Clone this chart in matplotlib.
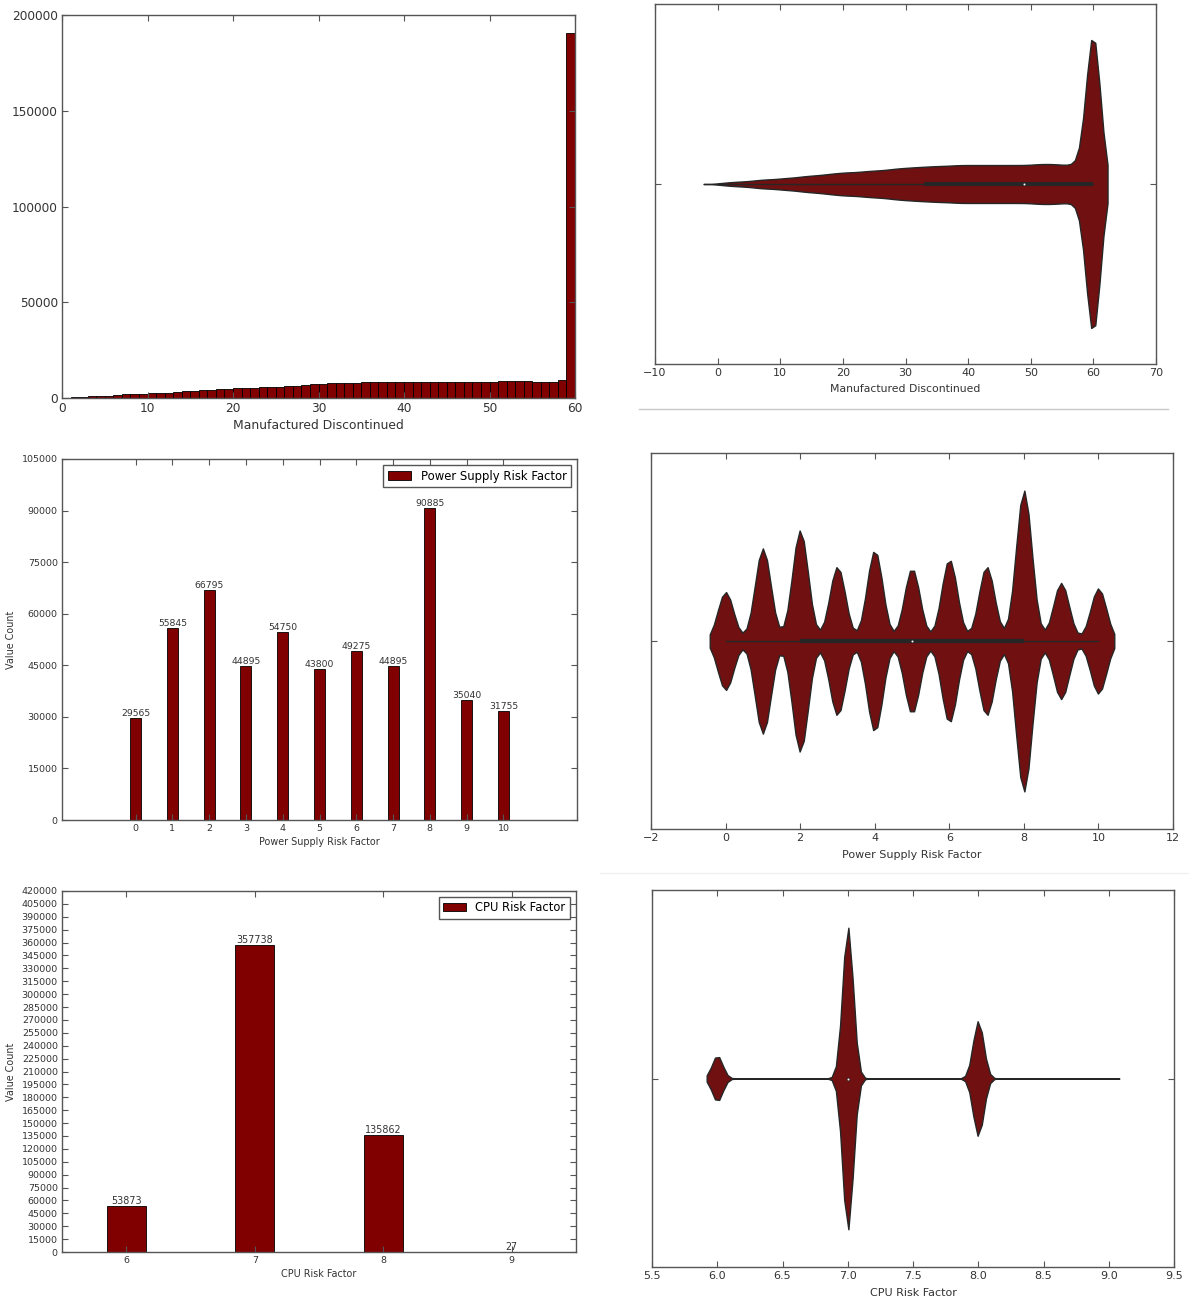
import numpy as np
import matplotlib
matplotlib.use('Agg')
import matplotlib.pyplot as plt
from matplotlib.lines import Line2D
from matplotlib.ticker import FormatStrFormatter

# ---------------- data ----------------
md_values = list(range(61))
md_counts = [100, 750, 750, 1100, 1100, 1300, 1600, 2100, 2100, 2100,
             2500, 2800, 2800, 3200, 3700, 3700, 4100, 4100, 4800, 4800,
             5300, 5300, 5300, 5600, 6000, 6000, 6300, 6300, 6900, 7200,
             7200, 7600, 7600, 7900, 7900, 8200, 8200, 8200, 8600, 8600,
             8600, 8600, 8600, 8600, 8600, 8600, 8600, 8600, 8600, 8600,
             8600, 9100, 9100, 9100, 9100, 8600, 8600, 8600, 9300, 8900,
             181900]

ps_levels = [0, 1, 2, 3, 4, 5, 6, 7, 8, 9, 10]
ps_counts = [29565, 55845, 66795, 44895, 54750, 43800, 49275, 44895, 90885, 35040, 31755]

cpu_levels = [6, 7, 8, 9]
cpu_counts = [53873, 357738, 135862, 27]

BAR = '#800000'
VIOLIN = '#701010'
GRAY = '#262626'
SPINE = '#555555'
TXT = '#333333'

W, H = 1189, 1302
fig = plt.figure(figsize=(W / 100, H / 100), dpi=100)
fig.patch.set_facecolor('white')


def rect(x0, y0, x1, y1):
    return [x0 / W, 1 - y1 / H, (x1 - x0) / W, (y1 - y0) / H]


def style(ax, size):
    for s in ax.spines.values():
        s.set_color(SPINE)
        s.set_linewidth(1.0)
    ax.tick_params(which='both', direction='in', top=True, right=True, length=4,
                   width=0.8, color=SPINE, labelsize=size, labelcolor=TXT, pad=3)


def draw_violin(ax, values, counts, gridsize=100, cut=2, width=0.8):
    v = np.asarray(values, float)
    w = np.asarray(counts, float)
    keep = w > 0
    v, w = v[keep], w[keep]
    n = w.sum()
    mean = (v * w).sum() / n
    std = np.sqrt((w * (v - mean) ** 2).sum() / (n - 1))
    bw = std * n ** (-1 / 5)
    support = np.linspace(v.min() - cut * bw, v.max() + cut * bw, gridsize)
    dens = (w[None, :] * np.exp(-0.5 * ((support[:, None] - v[None, :]) / bw) ** 2)).sum(1)
    dens = dens / dens.max() * width / 2
    ax.fill_between(support, -dens, dens, facecolor=VIOLIN, edgecolor=GRAY,
                    linewidth=1.0, zorder=1)
    order = np.argsort(v)
    vs, cum = v[order], np.cumsum(w[order])

    def q(p):
        return vs[np.searchsorted(cum, p * n)]
    q25, q50, q75 = q(0.25), q(0.5), q(0.75)
    iqr = q75 - q25
    lo = vs[vs >= q25 - 1.5 * iqr].min()
    hi = vs[vs <= q75 + 1.5 * iqr].max()
    ax.plot([lo, hi], [0, 0], color=GRAY, lw=1.0, zorder=2)
    ax.plot([q25, q75], [0, 0], color=GRAY, lw=3.0, solid_capstyle='butt', zorder=2)
    ax.scatter([q50], [0], s=4, color='white', edgecolor=GRAY, linewidth=0.5, zorder=3)
    ax.set_ylim(-0.5, 0.5)
    ax.set_yticks([0])
    ax.set_yticklabels([''])


# ---------- panel 1: histogram ----------
ax1 = fig.add_axes(rect(62, 15, 575, 398))
ax1.hist(md_values, bins=60, range=(0, 60), weights=md_counts, color=BAR,
         edgecolor='black', linewidth=0.6)
ax1.set_xlim(0, 60)
ax1.set_ylim(0, 200000)
ax1.set_xticks(np.arange(0, 61, 10))
ax1.set_yticks(np.arange(0, 200001, 50000))
style(ax1, 8.7)
ax1.set_xlabel('Manufactured Discontinued', fontsize=8.9, color=TXT, labelpad=3)

# ---------- panel 2: violin ----------
ax2 = fig.add_axes(rect(655, 4, 1156, 364))
draw_violin(ax2, md_values, md_counts)
ax2.set_xlim(-10, 70)
ax2.set_xticks(np.arange(-10, 71, 10))
style(ax2, 8)
ax2.set_xlabel('Manufactured Discontinued', fontsize=7.8, color=TXT, labelpad=4.5)

# ---------- panel 3: bar ----------
ax3 = fig.add_axes(rect(62, 459, 577, 820))
ax3.bar(ps_levels, ps_counts, width=0.3, color=BAR, edgecolor='black',
        linewidth=0.6, label='Power Supply Risk Factor')
for x, c in zip(ps_levels, ps_counts):
    ax3.text(x, c, '%d' % c, ha='center', va='bottom', fontsize=6.7, color=TXT)
ax3.set_xlim(-2, 12)
ax3.set_ylim(0, 105000)
ax3.set_xticks(ps_levels)
ax3.set_yticks(np.arange(0, 105001, 15000))
style(ax3, 6.8)
ax3.set_xlabel('Power Supply Risk Factor', fontsize=6.9, color=TXT, labelpad=3)
ax3.set_ylabel('Value Count', fontsize=6.9, color=TXT, labelpad=4)
lg = ax3.legend(loc='upper right', fontsize=8.4, fancybox=False, framealpha=1,
                borderaxespad=0.5)
lg.get_frame().set_edgecolor(SPINE)
lg.get_frame().set_linewidth(1.0)

# ---------- panel 4: violin ----------
ax4 = fig.add_axes(rect(651, 453, 1173, 829))
draw_violin(ax4, ps_levels, ps_counts)
ax4.set_xlim(-2, 12)
ax4.set_xticks(np.arange(-2, 13, 2))
style(ax4, 8)
ax4.set_xlabel('Power Supply Risk Factor', fontsize=8, color=TXT, labelpad=5)

# ---------- panel 5: bar ----------
ax5 = fig.add_axes(rect(62, 891, 576, 1252))
ax5.bar(cpu_levels, cpu_counts, width=0.3, color=BAR, edgecolor='black',
        linewidth=0.6, label='CPU Risk Factor')
for x, c in zip(cpu_levels, cpu_counts):
    ax5.text(x, c, '%d' % c, ha='center', va='bottom', fontsize=6.9, color=TXT)
ax5.set_xlim(5.5, 9.5)
ax5.set_ylim(0, 420000)
ax5.set_xticks(cpu_levels)
ax5.set_yticks(np.arange(0, 420001, 15000))
style(ax5, 6.8)
ax5.set_xlabel('CPU Risk Factor', fontsize=6.9, color=TXT, labelpad=3)
ax5.set_ylabel('Value Count', fontsize=6.9, color=TXT, labelpad=4)
lg = ax5.legend(loc='upper right', fontsize=8.3, fancybox=False, framealpha=1,
                borderaxespad=0.5)
lg.get_frame().set_edgecolor(SPINE)
lg.get_frame().set_linewidth(1.0)

# ---------- panel 6: violin ----------
ax6 = fig.add_axes(rect(652, 890, 1174, 1267))
draw_violin(ax6, cpu_levels, cpu_counts)
ax6.set_xlim(5.5, 9.5)
ax6.set_xticks(np.arange(5.5, 9.51, 0.5))
ax6.xaxis.set_major_formatter(FormatStrFormatter('%.1f'))
style(ax6, 8)
ax6.set_xlabel('CPU Risk Factor', fontsize=8, color=TXT, labelpad=5)

# notebook cell separators
fig.add_artist(Line2D([639 / W, 1168 / W], [1 - 409 / H] * 2, color='#c8c8c8', lw=1.0))
fig.add_artist(Line2D([600 / W, 1189 / W], [1 - 873 / H] * 2, color='#f0f0f0', lw=1.0))

fig.savefig('out.png', dpi=100, facecolor='white')
